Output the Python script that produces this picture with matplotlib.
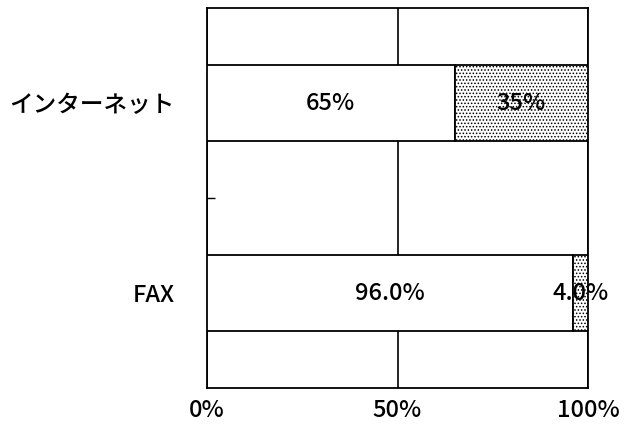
import matplotlib.pyplot as plt
import numpy as np

plt.rcParams['font.family'] = ['Noto Sans CJK JP', 'DejaVu Sans']
plt.rcParams['font.weight'] = 'medium'
plt.rcParams['hatch.color'] = '#444444'
plt.rcParams['hatch.linewidth'] = 0.7

# rows from top to bottom; the middle row is an empty spacer
categories = ['インターネット', '', 'FAX']
share_a = [65, 0, 96.0]
share_b = [35, 0, 4.0]
labels_a = ['65%', '', '96.0%']
labels_b = ['35%', '', '4.0%']
xticks = [0, 50, 100]
xtick_labels = ['0%', '50%', '100%']

fs = 17

fig = plt.figure(figsize=(6.36, 4.33), dpi=100)
ax = fig.add_axes([207 / 636, 1 - 388 / 433, 381 / 636, 380 / 433])

y = np.arange(len(categories))
a = np.array(share_a, dtype=float)
b = np.array(share_b, dtype=float)
has = (a + b) > 0

ax.barh(y[has], a[has], height=0.8, color='white', edgecolor='black',
        linewidth=1.3, zorder=3)
ax.barh(y[has], b[has], left=a[has], height=0.8, color='white',
        edgecolor='black', hatch='.....', linewidth=1.3, zorder=3)

for i in range(len(categories)):
    if not has[i]:
        continue
    ax.text(a[i] / 2, y[i], labels_a[i], ha='center', va='center',
            fontsize=fs, zorder=4)
    ax.text(a[i] + b[i] / 2, y[i], labels_b[i], ha='center', va='center',
            fontsize=fs, zorder=4)

ax.set_xlim(0, 100)
ax.set_ylim(len(categories), -1)
ax.set_xticks(xticks)
ax.set_xticklabels(xtick_labels, fontsize=fs)
ax.set_yticks(y)
ax.set_yticklabels(categories, fontsize=fs)
ax.tick_params(axis='x', length=0, pad=8)
ax.tick_params(axis='y', direction='in', length=6, width=1, pad=23)
ax.grid(axis='x', color='black', linewidth=1.2, zorder=0)
ax.set_axisbelow(True)
for s in ax.spines.values():
    s.set_linewidth(1.3)

fig.savefig('out.png', dpi=100)
